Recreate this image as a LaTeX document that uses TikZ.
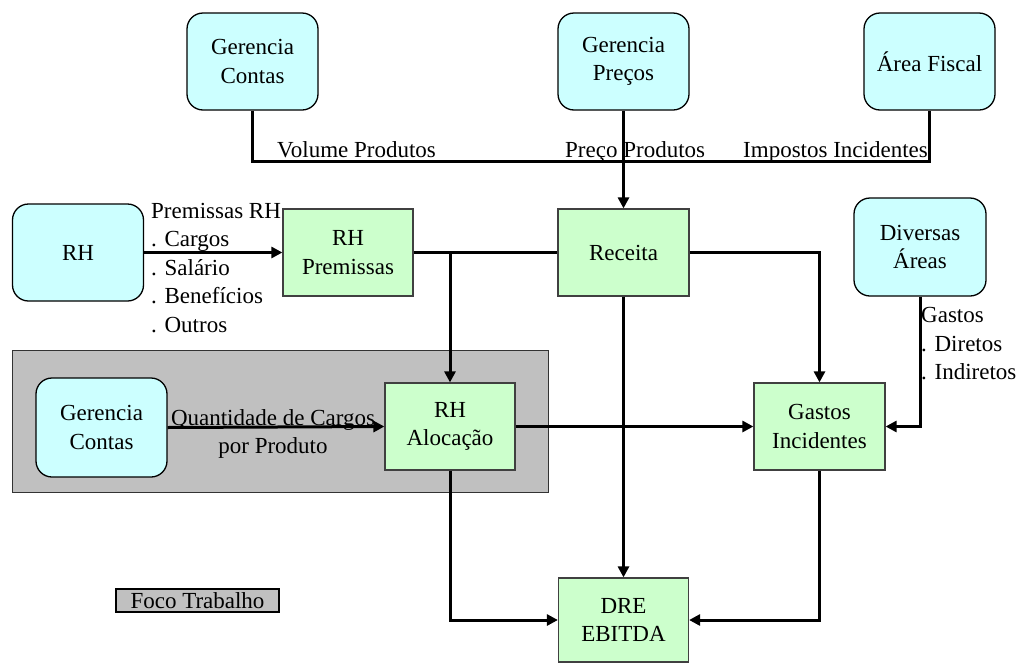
\documentclass[tikz,border=0pt]{standalone}
\usepackage{fontspec}
\setmainfont{Liberation Serif}
\usetikzlibrary{arrows.meta}
\definecolor{cyanfill}{HTML}{CCFFFF}
\definecolor{greenfill}{HTML}{CCFFCC}
\definecolor{grayfill}{HTML}{C0C0C0}
\begin{document}
\begin{tikzpicture}[x=1pt,y=-1pt,
  every node/.style={font=\fontsize{23}{28.5}\selectfont},
  src/.style={draw=black, line width=1.3pt, fill=cyanfill, rounded corners=16pt,
    minimum width=131pt, minimum height=97pt, align=center, inner sep=0pt},
  proc/.style={draw=black!75, line width=1.2pt, fill=greenfill,
    minimum width=130pt, minimum height=87pt, align=center, inner sep=0pt},
  conn/.style={line width=3pt},
  arr/.style={conn, -{Triangle[length=11pt,width=11pt]}},
  lbl/.style={inner sep=0pt, align=left}
]
\useasboundingbox (0,0) rectangle (1018,662);

% focus area
\node[draw=black!80, line width=1pt, fill=grayfill, minimum width=536pt,
      minimum height=142pt, inner sep=0pt] (focus) at (280,421) {};

% source boxes
\node[src] (gc1) at (252.5,61.5) {Gerencia\\Contas};
\node[src] (gp)  at (623.5,61.5) {Gerencia\\Preços};
\node[src] (af)  at (929.5,61.5) {Área Fiscal};
\node[src] (rh)  at (78,252.5) {RH};
\node[src, minimum width=132pt, minimum height=98pt] (div) at (920,247) {Diversas\\Áreas};
\node[src, minimum height=99pt] (gc2) at (101.5,427.5) {Gerencia\\Contas};

% process boxes
\node[proc] (rhp) at (348,252.5) {RH\\Premissas};
\node[proc, minimum width=131pt] (rec) at (623.5,252.5) {Receita};
\node[proc] (rha) at (450,426.5) {RH\\Alocação};
\node[proc, minimum width=131pt] (gas) at (819.5,426.5) {Gastos\\Incidentes};
\node[proc, minimum height=84pt] (dre) at (623.5,620) {DRE\\EBITDA};

% legend
\node[draw=black, line width=1.2pt, fill=grayfill, minimum width=163pt,
      minimum height=23pt, inner sep=0pt] (foco) at (197.5,600.5) {Foco Trabalho};

% top collector line
\coordinate (jl) at (252.5,161);
\coordinate (jr) at (929.5,161);
\draw[conn] (gc1.south) -- (jl) -- (jr) -- (af.south);
\draw[arr] (gp.south) -- (rec.north);
\node[lbl, anchor=base west] (lvol) at (277,157) {Volume Produtos};
\node[lbl, anchor=base west] (lpre) at (565,157) {Preço Produtos};
\node[lbl, anchor=base east] (limp) at (928,157) {Impostos Incidentes};

% RH
\draw[arr] (rh.east) -- (rhp.west);
\node[lbl, anchor=north west] (lprem) at (151,203)
  {Premissas RH\\. Cargos\\. Salário\\. Benefícios\\. Outros};

\coordinate (jrh) at (rha.north |- rhp.east);
\draw[conn] (rhp.east) -- (rec.west);
\draw[arr] (jrh) -- (rha.north);

% Receita -> Gastos
\draw[arr] (rec.east) -| (gas.north);

% Diversas -> Gastos
\draw[arr] (div.south) |- (gas.east);
\node[lbl, anchor=north west] (lgas) at (921,307.5) {Gastos\\. Diretos\\. Indiretos};

% Gerencia Contas -> RH Alocacao
\draw[arr] (gc2.east) -- (rha.west);
\node[inner sep=0pt, align=center, anchor=north] (lqtd) at (273,409)
  {Quantidade de Cargos\\por Produto};

\draw[arr] (rha.east) -- (gas.west);
\draw[arr] (rec.south) -- (dre.north);
\draw[arr] (rha.south) |- (dre.west);
\draw[arr] (gas.south) |- (dre.east);
\end{tikzpicture}
\end{document}
